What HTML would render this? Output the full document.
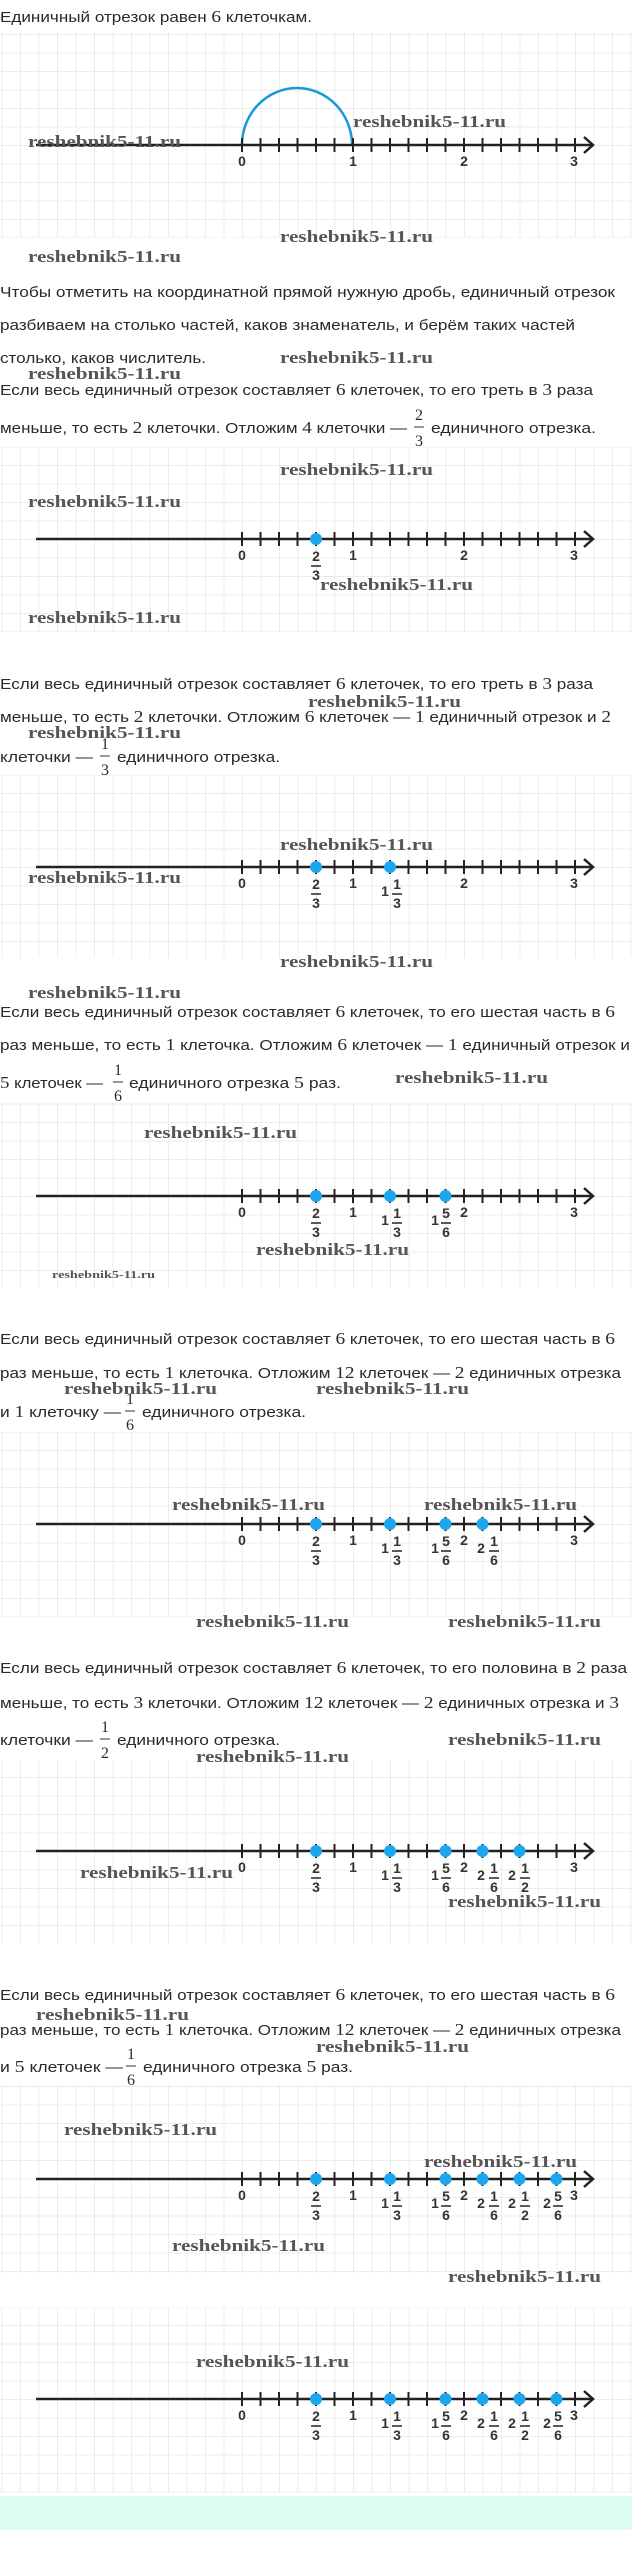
<!DOCTYPE html>
<html><head><meta charset="utf-8">
<style>
html,body{margin:0;padding:0;background:#fff;}
body{width:632px;height:2563px;position:relative;overflow:hidden;}
.g{position:absolute;left:0;width:632px;
background-image:linear-gradient(90deg,#ececec 1px,transparent 1px),linear-gradient(#ececec 1px,transparent 1px);
background-size:18.5px 18.5px;}
svg{position:absolute;left:0;top:0;}
.t{font-family:"Liberation Sans",sans-serif;font-size:15px;fill:#2a2a2a;}
.s{font-family:"Liberation Serif",serif;font-size:17px;}
.w{font-family:"Liberation Serif",serif;font-weight:bold;font-size:17px;fill:#555;}
.f{font-family:"Liberation Serif",serif;font-size:16px;fill:#2a2a2a;text-anchor:middle;}
.l{font-family:"Liberation Sans",sans-serif;font-weight:bold;font-size:14px;fill:#333;text-anchor:middle;}
</style></head><body>
<div class="g" style="top:32px;height:206px;background-position:1.5px 2px;"></div>
<div class="g" style="top:447px;height:185px;background-position:1.5px 18px;"></div>
<div class="g" style="top:775px;height:183px;background-position:1.5px 18px;"></div>
<div class="g" style="top:1103px;height:185px;background-position:1.5px 0.5px;"></div>
<div class="g" style="top:1432px;height:185px;background-position:1.5px 18px;"></div>
<div class="g" style="top:1760px;height:183px;background-position:1.5px 17px;"></div>
<div class="g" style="top:2085px;height:188px;background-position:1.5px 1px;"></div>
<div class="g" style="top:2307px;height:186px;background-position:1.5px 18px;"></div>
<div style="position:absolute;left:0;top:2496px;width:632px;height:34px;background:#dcfdef;"></div>

<svg width="632" height="2563" viewBox="0 0 632 2563" xmlns="http://www.w3.org/2000/svg">
<defs>
<g id="ax">
<line x1="36" y1="0" x2="592" y2="0" stroke="#222" stroke-width="2.5"/>
<path d="M242 -7V7M260.5 -7V7M279 -7V7M297.5 -7V7M316 -7V7M334.5 -7V7M353 -7V7M371.5 -7V7M390 -7V7M408.5 -7V7M427 -7V7M445.5 -7V7M464 -7V7M482.5 -7V7M501 -7V7M519.5 -7V7M538 -7V7M556.5 -7V7M575 -7V7" stroke="#222" stroke-width="2"/>
<path d="M584 -8L593 0L584 8" fill="none" stroke="#222" stroke-width="2.5"/>
<text class="l" x="242" y="21">0</text><text class="l" x="353" y="21">1</text><text class="l" x="464" y="21">2</text><text class="l" x="574" y="21">3</text>
</g>
<g id="L2"><use href="#ax"/><circle cx="316" cy="0" r="6" fill="#1ba6ef"/>
<text class="l" x="316" y="22">2</text><line x1="311" y1="27" x2="321" y2="27" stroke="#222" stroke-width="1.5"/><text class="l" x="316" y="41">3</text></g>
<g id="L3"><use href="#L2"/><circle cx="390" cy="0" r="6" fill="#1ba6ef"/>
<text class="l" x="385" y="29">1</text><text class="l" x="397" y="22">1</text><line x1="392" y1="27" x2="402" y2="27" stroke="#222" stroke-width="1.5"/><text class="l" x="397" y="41">3</text></g>
<g id="L4"><use href="#L3"/><circle cx="445.5" cy="0" r="6" fill="#1ba6ef"/>
<text class="l" x="435" y="29">1</text><text class="l" x="446" y="22">5</text><line x1="441" y1="27" x2="451" y2="27" stroke="#222" stroke-width="1.5"/><text class="l" x="446" y="41">6</text></g>
<g id="L5"><use href="#L4"/><circle cx="482.5" cy="0" r="6" fill="#1ba6ef"/>
<text class="l" x="481" y="29">2</text><text class="l" x="494" y="22">1</text><line x1="489" y1="27" x2="499" y2="27" stroke="#222" stroke-width="1.5"/><text class="l" x="494" y="41">6</text></g>
<g id="L6"><use href="#L5"/><circle cx="519.5" cy="0" r="6" fill="#1ba6ef"/>
<text class="l" x="512" y="29">2</text><text class="l" x="525" y="22">1</text><line x1="520" y1="27" x2="530" y2="27" stroke="#222" stroke-width="1.5"/><text class="l" x="525" y="41">2</text></g>
<g id="L7"><use href="#L6"/><circle cx="556.5" cy="0" r="6" fill="#1ba6ef"/>
<text class="l" x="547" y="29">2</text><text class="l" x="558" y="22">5</text><line x1="553" y1="27" x2="563" y2="27" stroke="#222" stroke-width="1.5"/><text class="l" x="558" y="41">6</text></g>
</defs>

<path d="M242 145 A55 57 0 0 1 352 145" fill="none" stroke="#1a9ad6" stroke-width="2.5"/>
<use href="#ax" y="145"/>
<use href="#L2" y="539"/>
<use href="#L3" y="867"/>
<use href="#L4" y="1196"/>
<use href="#L5" y="1524"/>
<use href="#L6" y="1851"/>
<use href="#L7" y="2179"/>
<use href="#L7" y="2399"/>

<text class="t" x="0" y="22" textLength="312" lengthAdjust="spacingAndGlyphs">Единичный отрезок равен <tspan class="s">6</tspan> клеточкам.</text>
<text class="t" x="0" y="297" textLength="615" lengthAdjust="spacingAndGlyphs">Чтобы отметить на координатной прямой нужную дробь, единичный отрезок</text>
<text class="t" x="0" y="330" textLength="575" lengthAdjust="spacingAndGlyphs">разбиваем на столько частей, каков знаменатель, и берём таких частей</text>
<text class="t" x="0" y="363" textLength="206" lengthAdjust="spacingAndGlyphs">столько, каков числитель.</text>
<text class="t" x="0" y="395" textLength="593" lengthAdjust="spacingAndGlyphs">Если весь единичный отрезок составляет <tspan class="s">6</tspan> клеточек, то его треть в <tspan class="s">3</tspan> раза</text>
<text class="t" x="0" y="433" textLength="407" lengthAdjust="spacingAndGlyphs">меньше, то есть <tspan class="s">2</tspan> клеточки. Отложим <tspan class="s">4</tspan> клеточки —</text>
<text class="f" x="419" y="420">2</text><line x1="414" y1="427" x2="424" y2="427" stroke="#333"/><text class="f" x="419" y="446">3</text>
<text class="t" x="431" y="433" textLength="165" lengthAdjust="spacingAndGlyphs">единичного отрезка.</text>

<text class="t" x="0" y="689" textLength="593" lengthAdjust="spacingAndGlyphs">Если весь единичный отрезок составляет <tspan class="s">6</tspan> клеточек, то его треть в <tspan class="s">3</tspan> раза</text>
<text class="t" x="0" y="722" textLength="611" lengthAdjust="spacingAndGlyphs">меньше, то есть <tspan class="s">2</tspan> клеточки. Отложим <tspan class="s">6</tspan> клеточек — <tspan class="s">1</tspan> единичный отрезок и <tspan class="s">2</tspan></text>
<text class="t" x="0" y="762" textLength="93" lengthAdjust="spacingAndGlyphs">клеточки —</text>
<text class="f" x="105" y="749">1</text><line x1="100" y1="756" x2="110" y2="756" stroke="#333"/><text class="f" x="105" y="775">3</text>
<text class="t" x="117" y="762" textLength="163" lengthAdjust="spacingAndGlyphs">единичного отрезка.</text>

<text class="t" x="0" y="1017" textLength="615" lengthAdjust="spacingAndGlyphs">Если весь единичный отрезок составляет <tspan class="s">6</tspan> клеточек, то его шестая часть в <tspan class="s">6</tspan></text>
<text class="t" x="0" y="1050" textLength="630" lengthAdjust="spacingAndGlyphs">раз меньше, то есть <tspan class="s">1</tspan> клеточка. Отложим <tspan class="s">6</tspan> клеточек — <tspan class="s">1</tspan> единичный отрезок и</text>
<text class="t" x="0" y="1088" textLength="103" lengthAdjust="spacingAndGlyphs"><tspan class="s">5</tspan> клеточек —</text>
<text class="f" x="118" y="1075">1</text><line x1="113" y1="1082" x2="123" y2="1082" stroke="#333"/><text class="f" x="118" y="1101">6</text>
<text class="t" x="129" y="1088" textLength="212" lengthAdjust="spacingAndGlyphs">единичного отрезка <tspan class="s">5</tspan> раз.</text>

<text class="t" x="0" y="1344" textLength="615" lengthAdjust="spacingAndGlyphs">Если весь единичный отрезок составляет <tspan class="s">6</tspan> клеточек, то его шестая часть в <tspan class="s">6</tspan></text>
<text class="t" x="0" y="1378" textLength="621" lengthAdjust="spacingAndGlyphs">раз меньше, то есть <tspan class="s">1</tspan> клеточка. Отложим <tspan class="s">12</tspan> клеточек — <tspan class="s">2</tspan> единичных отрезка</text>
<text class="t" x="0" y="1417" textLength="121" lengthAdjust="spacingAndGlyphs">и <tspan class="s">1</tspan> клеточку —</text>
<text class="f" x="130" y="1404">1</text><line x1="125" y1="1411" x2="135" y2="1411" stroke="#333"/><text class="f" x="130" y="1430">6</text>
<text class="t" x="142" y="1417" textLength="164" lengthAdjust="spacingAndGlyphs">единичного отрезка.</text>

<text class="t" x="0" y="1673" textLength="627" lengthAdjust="spacingAndGlyphs">Если весь единичный отрезок составляет <tspan class="s">6</tspan> клеточек, то его половина в <tspan class="s">2</tspan> раза</text>
<text class="t" x="0" y="1708" textLength="619" lengthAdjust="spacingAndGlyphs">меньше, то есть <tspan class="s">3</tspan> клеточки. Отложим <tspan class="s">12</tspan> клеточек — <tspan class="s">2</tspan> единичных отрезка и <tspan class="s">3</tspan></text>
<text class="t" x="0" y="1745" textLength="93" lengthAdjust="spacingAndGlyphs">клеточки —</text>
<text class="f" x="105" y="1732">1</text><line x1="100" y1="1739" x2="110" y2="1739" stroke="#333"/><text class="f" x="105" y="1758">2</text>
<text class="t" x="117" y="1745" textLength="163" lengthAdjust="spacingAndGlyphs">единичного отрезка.</text>

<text class="t" x="0" y="2000" textLength="615" lengthAdjust="spacingAndGlyphs">Если весь единичный отрезок составляет <tspan class="s">6</tspan> клеточек, то его шестая часть в <tspan class="s">6</tspan></text>
<text class="t" x="0" y="2035" textLength="621" lengthAdjust="spacingAndGlyphs">раз меньше, то есть <tspan class="s">1</tspan> клеточка. Отложим <tspan class="s">12</tspan> клеточек — <tspan class="s">2</tspan> единичных отрезка</text>
<text class="t" x="0" y="2072" textLength="123" lengthAdjust="spacingAndGlyphs">и <tspan class="s">5</tspan> клеточек —</text>
<text class="f" x="131" y="2059">1</text><line x1="126" y1="2066" x2="136" y2="2066" stroke="#333"/><text class="f" x="131" y="2085">6</text>
<text class="t" x="143" y="2072" textLength="210" lengthAdjust="spacingAndGlyphs">единичного отрезка <tspan class="s">5</tspan> раз.</text>

<g class="w">
<text x="28" y="147" textLength="153" lengthAdjust="spacingAndGlyphs">reshebnik5-11.ru</text>
<text x="353" y="127" textLength="153" lengthAdjust="spacingAndGlyphs">reshebnik5-11.ru</text>
<text x="280" y="242" textLength="153" lengthAdjust="spacingAndGlyphs">reshebnik5-11.ru</text>
<text x="28" y="262" textLength="153" lengthAdjust="spacingAndGlyphs">reshebnik5-11.ru</text>
<text x="280" y="363" textLength="153" lengthAdjust="spacingAndGlyphs">reshebnik5-11.ru</text>
<text x="28" y="379" textLength="153" lengthAdjust="spacingAndGlyphs">reshebnik5-11.ru</text>
<text x="280" y="475" textLength="153" lengthAdjust="spacingAndGlyphs">reshebnik5-11.ru</text>
<text x="28" y="507" textLength="153" lengthAdjust="spacingAndGlyphs">reshebnik5-11.ru</text>
<text x="320" y="590" textLength="153" lengthAdjust="spacingAndGlyphs">reshebnik5-11.ru</text>
<text x="28" y="623" textLength="153" lengthAdjust="spacingAndGlyphs">reshebnik5-11.ru</text>
<text x="308" y="707" textLength="153" lengthAdjust="spacingAndGlyphs">reshebnik5-11.ru</text>
<text x="28" y="738" textLength="153" lengthAdjust="spacingAndGlyphs">reshebnik5-11.ru</text>
<text x="280" y="850" textLength="153" lengthAdjust="spacingAndGlyphs">reshebnik5-11.ru</text>
<text x="28" y="883" textLength="153" lengthAdjust="spacingAndGlyphs">reshebnik5-11.ru</text>
<text x="280" y="967" textLength="153" lengthAdjust="spacingAndGlyphs">reshebnik5-11.ru</text>
<text x="28" y="998" textLength="153" lengthAdjust="spacingAndGlyphs">reshebnik5-11.ru</text>
<text x="395" y="1083" textLength="153" lengthAdjust="spacingAndGlyphs">reshebnik5-11.ru</text>
<text x="144" y="1138" textLength="153" lengthAdjust="spacingAndGlyphs">reshebnik5-11.ru</text>
<text x="256" y="1255" textLength="153" lengthAdjust="spacingAndGlyphs">reshebnik5-11.ru</text>
<text x="52" y="1278" font-size="11" textLength="103" lengthAdjust="spacingAndGlyphs">reshebnik5-11.ru</text>
<text x="64" y="1394" textLength="153" lengthAdjust="spacingAndGlyphs">reshebnik5-11.ru</text>
<text x="316" y="1394" textLength="153" lengthAdjust="spacingAndGlyphs">reshebnik5-11.ru</text>
<text x="172" y="1510" textLength="153" lengthAdjust="spacingAndGlyphs">reshebnik5-11.ru</text>
<text x="424" y="1510" textLength="153" lengthAdjust="spacingAndGlyphs">reshebnik5-11.ru</text>
<text x="196" y="1627" textLength="153" lengthAdjust="spacingAndGlyphs">reshebnik5-11.ru</text>
<text x="448" y="1627" textLength="153" lengthAdjust="spacingAndGlyphs">reshebnik5-11.ru</text>
<text x="448" y="1745" textLength="153" lengthAdjust="spacingAndGlyphs">reshebnik5-11.ru</text>
<text x="196" y="1762" textLength="153" lengthAdjust="spacingAndGlyphs">reshebnik5-11.ru</text>
<text x="80" y="1878" textLength="153" lengthAdjust="spacingAndGlyphs">reshebnik5-11.ru</text>
<text x="448" y="1907" textLength="153" lengthAdjust="spacingAndGlyphs">reshebnik5-11.ru</text>
<text x="36" y="2020" textLength="153" lengthAdjust="spacingAndGlyphs">reshebnik5-11.ru</text>
<text x="316" y="2052" textLength="153" lengthAdjust="spacingAndGlyphs">reshebnik5-11.ru</text>
<text x="64" y="2135" textLength="153" lengthAdjust="spacingAndGlyphs">reshebnik5-11.ru</text>
<text x="424" y="2167" textLength="153" lengthAdjust="spacingAndGlyphs">reshebnik5-11.ru</text>
<text x="172" y="2251" textLength="153" lengthAdjust="spacingAndGlyphs">reshebnik5-11.ru</text>
<text x="448" y="2282" textLength="153" lengthAdjust="spacingAndGlyphs">reshebnik5-11.ru</text>
<text x="196" y="2367" textLength="153" lengthAdjust="spacingAndGlyphs">reshebnik5-11.ru</text>
</g>
</svg>
</body></html>
